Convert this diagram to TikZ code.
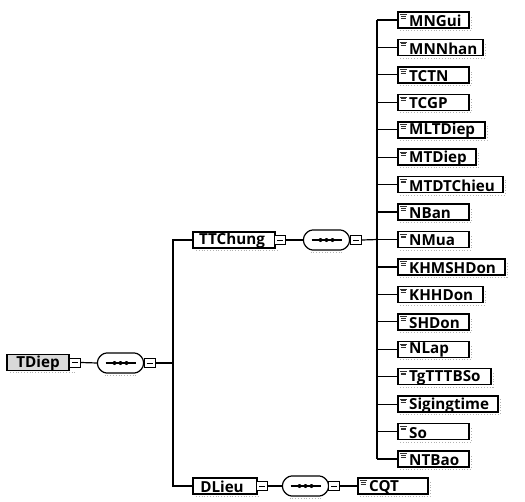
\documentclass[tikz,border=0pt]{standalone}
\usepackage{fontspec}
\setmainfont{Open Sans}
\usetikzlibrary{calc}
\begin{document}
\begin{tikzpicture}[x=1pt,y=-1pt,
  bx/.style={draw=black, line width=1.5pt, fill=white, minimum height=16pt, inner sep=0pt},
  txt/.style={font=\bfseries\fontsize{15.2}{16}\selectfont, inner sep=0pt},
  mini/.style={draw=black, line width=0.9pt, fill=white, minimum width=11pt, minimum height=9pt, inner sep=0pt},
  seqn/.style={minimum width=46pt, minimum height=20pt, inner sep=0pt},
  seqline/.style={draw=black, line width=1.2pt, fill=white, rounded corners=3pt},
  conn/.style={draw=black, line width=1.2pt},
  shd/.style={draw=gray!60, dotted, line width=0.8pt},
  ico/.style={draw=black!80, line width=0.7pt}]
\useasboundingbox (0,0) rectangle (525,501);

\newcommand\mkicon[3]{%
  \node[mini] (#1) at (#2,#3) {};
  \draw[line width=0.8pt] ($(#1.center)+(-3,0)$) -- ($(#1.center)+(3,0)$);}
\newcommand\mkseq[3]{%
  \node[seqn] (#1) at (#2,#3) {};
  \draw[shd, shift={(#1.center)}] (-16,12) -- (16,12);
  \draw[seqline, shift={(#1.center)}] (-17,-10) -- (17,-10) -- (23,-4) -- (23,4) -- (17,10) -- (-17,10) -- (-23,4) -- (-23,-4) -- cycle;
  \draw[line width=1.1pt, shift={(#1.center)}] (-15,0) -- (15,0);
  \foreach \d in {-6,0,6} \fill[shift={(#1.center)}] (\d,0) circle (2pt);}

% leaves
\foreach \n/\r [count=\i from 0] in {MNGui/468, MNNhan/482, TCTN/468, TCGP/468, MLTDiep/484, MTDiep/475, MTDTChieu/502, NBan/468, NMua/468, KHMSHDon/504, KHHDon/482, SHDon/468, NLap/468, TgTTTBSo/490, Sigingtime/497, So/468, NTBao/468}{
  \pgfmathsetmacro\yy{20+\i*27.44}
  \pgfmathsetmacro\ww{\r-397}
  \draw[shd] (400,\yy+10.5) -- (\r+3,\yy+10.5) -- (\r+3,\yy-5);
  \node[bx, minimum width=\ww pt, anchor=west] (\n) at (397,\yy) {};
  \node[txt, anchor=west] (\n-t) at (409,\yy+1) {\n};
  \draw[ico] (400,\yy-5.3) -- (407,\yy-5.3) (400.5,\yy-3.6) -- (406,\yy-3.6) (400.5,\yy-1.9) -- (406,\yy-1.9);
  \coordinate (\n-j) at (377,\yy);
  \draw[conn] (\n-j) -- (\n.west);
}
\draw[conn] (MNGui-j) -- (NTBao-j);

% TDiep
\draw[shd] (10,372) -- (75,372);
\node[bx, draw=black, fill=black!15, minimum width=62pt] (TDiep) at (38,362.5) {};
\node[txt] (TDiep-t) at (38,363.4) {TDiep};
\mkicon{TDiep-i1}{75}{362.5}
\mkseq{TDiep-s}{120.5}{363}
\mkicon{TDiep-i2}{149.5}{363}
\draw[conn] (TDiep-i1.east) -- (TDiep-s.west);
\draw[conn] (TDiep-s.east) -- (TDiep-i2.west);
\coordinate (vtop) at (173,240);
\coordinate (vmid) at (173,363);
\coordinate (vbot) at (173,486);
\draw[conn] (TDiep-i2.east) -- (vmid);

% TTChung
\draw[shd] (196,250) -- (278,250);
\node[bx, minimum width=82pt] (TTChung) at (234,240) {};
\node[txt] (TTChung-t) at (232,240.9) {TTChung};
\mkicon{TTChung-i1}{280}{240}
\mkseq{TTChung-s}{326.5}{240}
\mkicon{TTChung-i2}{356}{240}
\draw[conn] (TTChung-i1.east) -- (TTChung-s.west);
\draw[conn] (TTChung-s.east) -- (TTChung-i2.west);
\draw[conn] (TTChung-i2.east) -- (NMua-j);

% DLieu
\draw[shd] (196,496) -- (260,496);
\node[bx, minimum width=64pt] (DLieu) at (225,486) {};
\node[txt] (DLieu-t) at (222,486.9) {DLieu};
\mkicon{DLieu-i1}{262}{486}
\mkseq{DLieu-s}{305.5}{486}
\mkicon{DLieu-i2}{334}{486}
\draw[conn] (DLieu-i1.east) -- (DLieu-s.west);
\draw[conn] (DLieu-s.east) -- (DLieu-i2.west);
\draw[shd] (360,496.5) -- (430,496.5) -- (430,481);
\node[bx, minimum width=70pt, anchor=west] (CQT) at (357,486) {};
\node[txt, anchor=west] (CQT-t) at (369,487) {CQT};
\draw[ico] (360,480.7) -- (367,480.7) (360.5,482.4) -- (366,482.4) (360.5,484.1) -- (366,484.1);
\draw[conn] (DLieu-i2.east) -- (CQT.west);

% trunk
\draw[conn] (TTChung.west) -- (vtop) -- (vbot) -- (DLieu.west);
\end{tikzpicture}
\end{document}
